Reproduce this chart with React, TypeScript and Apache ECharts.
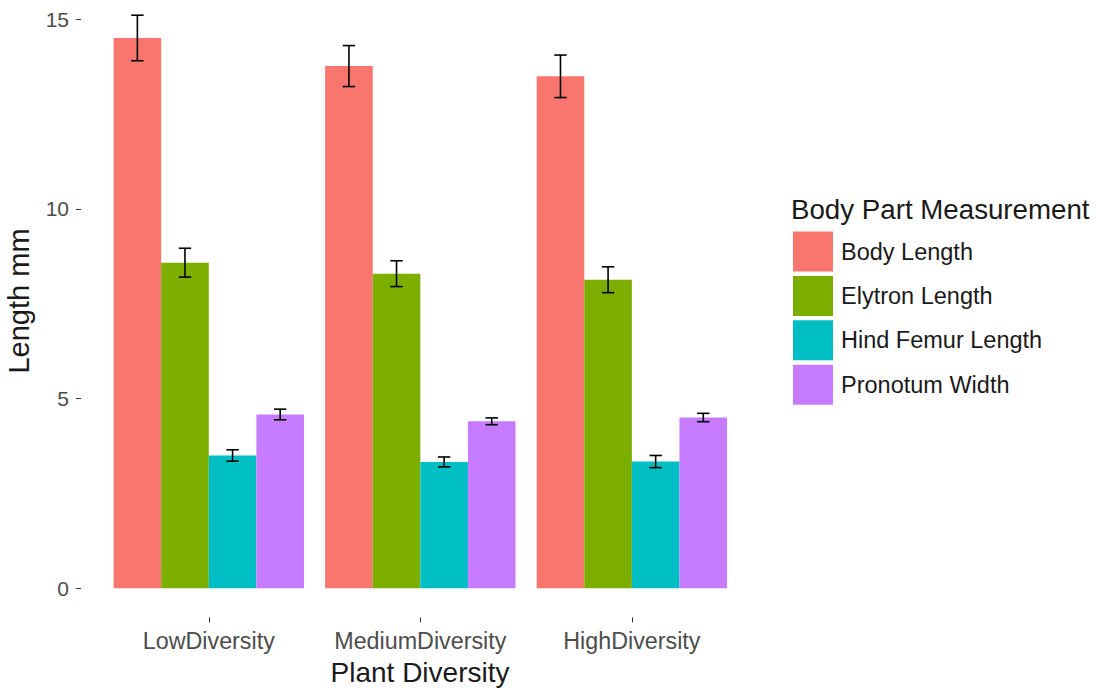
import React, { useEffect, useRef } from "react";
import * as echarts from "echarts";

const categories = ["LowDiversity", "MediumDiversity", "HighDiversity"];
const measures = ["Body Length", "Elytron Length", "Hind Femur Length", "Pronotum Width"];
const colors = ["#F8766D", "#7CAE00", "#00BFC4", "#C77CFF"];

const bodyLength = [14.5, 13.76, 13.49];
const elytronLength = [8.58, 8.29, 8.13];
const hindFemurLength = [3.5, 3.33, 3.34];
const pronotumWidth = [4.58, 4.4, 4.5];

const bodyLengthSE = [0.6, 0.54, 0.56];
const elytronLengthSE = [0.38, 0.34, 0.34];
const hindFemurLengthSE = [0.15, 0.13, 0.16];
const pronotumWidthSE = [0.14, 0.09, 0.11];

const yTicks = { min: 0, max: 15, interval: 5 };

const FONT = "'Liberation Sans', Arial, sans-serif";

export default function App() {
  const ref = useRef<HTMLDivElement>(null);

  useEffect(() => {
    if (!ref.current) return;
    const chart = echarts.init(ref.current, undefined, { renderer: "svg" });
    const means = [bodyLength, elytronLength, hindFemurLength, pronotumWidth];
    const ses = [bodyLengthSE, elytronLengthSE, hindFemurLengthSE, pronotumWidthSE];

    const errData: number[][] = [];
    means.forEach((arr, s) => {
      arr.forEach((m, c) => {
        errData.push([c, s, m - ses[s][c], m + ses[s][c]]);
      });
    });

    const barSeries = measures.map((name, i) => ({
      name,
      type: "bar",
      data: means[i],
      barGap: "0%",
      barCategoryGap: "10%",
      itemStyle: { color: colors[i] },
      emphasis: { disabled: true },
    }));

    chart.setOption({
      animation: false,
      backgroundColor: "#ffffff",
      textStyle: { fontFamily: FONT },
      grid: { left: 103, top: 19, width: 634.65, height: 569.3, containLabel: false },
      xAxis: {
        type: "category",
        data: categories,
        offset: 29,
        axisLine: { show: false, onZero: false },
        axisTick: { show: true, alignWithLabel: true, length: 5, lineStyle: { color: "#333333", width: 1 } },
        axisLabel: { fontSize: 23.3, color: "#4D4D4D", margin: 12, interval: 0, hideOverlap: false, fontFamily: FONT },
        splitLine: { show: false },
      },
      yAxis: {
        type: "value",
        min: yTicks.min,
        max: yTicks.max,
        interval: yTicks.interval,
        offset: 22,
        axisLine: { show: false, onZero: false },
        axisTick: { show: true, length: 5, lineStyle: { color: "#333333", width: 1 } },
        axisLabel: { fontSize: 21, color: "#4D4D4D", margin: 12, padding: [8, 0, 0, 0], fontFamily: FONT },
        splitLine: { show: false },
      },
      legend: {
        data: measures,
        orient: "vertical",
        left: 793,
        top: 231.5,
        itemWidth: 40,
        itemHeight: 40,
        itemGap: 4.4,
        icon: "rect",
        padding: 0,
        textStyle: { fontSize: 23.5, color: "#1a1a1a", fontFamily: FONT, padding: [0, 0, 0, 3] },
        selectedMode: false,
      },
      graphic: [
        {
          type: "text",
          left: 791,
          top: 195,
          style: { text: "Body Part Measurement", fontSize: 27.7, fill: "#1a1a1a", fontFamily: FONT },
        },
        {
          type: "text",
          x: 420,
          y: 672,
          style: { text: "Plant Diversity", fontSize: 28, fill: "#1a1a1a", fontFamily: FONT, align: "center", verticalAlign: "middle" },
        },
        {
          type: "text",
          x: 18.5,
          y: 301,
          rotation: Math.PI / 2,
          style: { text: "Length mm", fontSize: 29, fill: "#1a1a1a", fontFamily: FONT, align: "center", verticalAlign: "middle" },
        },
      ],
      series: [
        ...barSeries,
        {
          type: "custom",
          name: "errors",
          data: errData,
          encode: { x: 0, y: [2, 3] },
          clip: false,
          z: 10,
          renderItem: (params: any, api: any) => {
            const c = api.value(0);
            const s = api.value(1);
            const lo = api.value(2);
            const hi = api.value(3);
            const pLo = api.coord([c, lo]);
            const pHi = api.coord([c, hi]);
            const band = api.size([1, 0])[0];
            const bw = (band * 0.9) / 4;
            const x = pLo[0] + (s - 1.5) * bw;
            const hw = 6.2;
            const st = { stroke: "#000000", lineWidth: 1.6, fill: "none" };
            return {
              type: "group",
              children: [
                { type: "line", shape: { x1: x, y1: pLo[1], x2: x, y2: pHi[1] }, style: st },
                { type: "line", shape: { x1: x - hw, y1: pLo[1], x2: x + hw, y2: pLo[1] }, style: st },
                { type: "line", shape: { x1: x - hw, y1: pHi[1], x2: x + hw, y2: pHi[1] }, style: st },
              ],
            };
          },
        },
      ],
    });
    return () => chart.dispose();
  }, []);

  return (
    <div
      ref={ref}
      style={{ position: "fixed", left: 0, top: 0, width: 1103, height: 692, background: "#fff" }}
    />
  );
}
